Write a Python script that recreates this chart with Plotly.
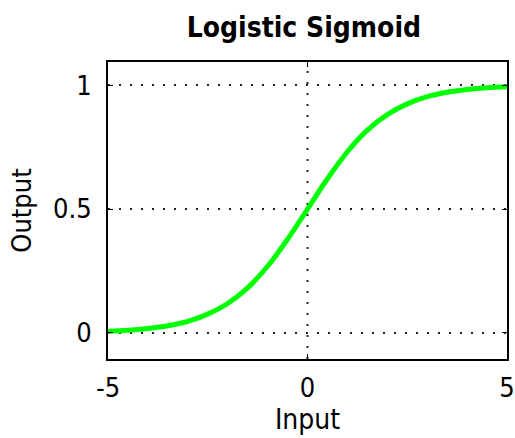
import plotly.graph_objects as go

# valeurs
x_input = [-5, -4.5, -4, -3.5, -3, -2.5, -2, -1.5, -1, -0.5, 0,
           0.5, 1, 1.5, 2, 2.5, 3, 3.5, 4, 4.5, 5]
y_output = [0.007, 0.011, 0.018, 0.029, 0.047, 0.076, 0.119, 0.182, 0.269, 0.378, 0.5,
            0.622, 0.731, 0.818, 0.881, 0.924, 0.953, 0.971, 0.982, 0.989, 0.993]
x_ticks = [-5, 0, 5]
x_tick_labels = ["-5", "0", "5"]
y_ticks = [0, 0.5, 1]
y_tick_labels = ["0", "0.5", "1"]

police = "DejaVu Sans Condensed, Liberation Sans Narrow, Arial Narrow, sans-serif"
y_min, y_max = -0.105, 1.093

fig = go.Figure()
fig.add_trace(go.Scatter(x=x_input, y=y_output, mode="lines",
                         line=dict(color="#00ff00", width=5, shape="spline")))

# grille pointillée
for yv in y_ticks:
    fig.add_shape(type="line", xref="x", yref="y", x0=-5, x1=5, y0=yv, y1=yv,
                  line=dict(color="#222222", width=2, dash="2px,9px"), layer="below")
fig.add_shape(type="line", xref="x", yref="y", x0=0, x1=0, y0=y_min, y1=y_max,
              line=dict(color="#222222", width=2, dash="2px,9px"), layer="below")

fig.update_layout(
    title=dict(text="<b>Logistic Sigmoid</b>", x=0.59, xanchor="center", y=0.938, yanchor="middle",
               font=dict(family=police, size=28, color="black")),
    plot_bgcolor="white",
    paper_bgcolor="white",
    showlegend=False,
    width=515, height=438,
    margin=dict(l=108, r=8, t=62, b=79),
    font=dict(family=police, size=27, color="black"),
    xaxis=dict(range=[-5, 5], tickvals=x_ticks, ticktext=x_tick_labels, showgrid=False, zeroline=False,
               showline=True, linecolor="black", linewidth=2, mirror="ticks",
               ticks="inside", ticklen=5, tickcolor="black", automargin=False,
               ticklabelstandoff=4, ticklabeloverflow="allow",
               title=dict(text="Input", font=dict(size=28), standoff=0),
               tickfont=dict(size=27)),
    yaxis=dict(range=[y_min, y_max], tickvals=y_ticks, ticktext=y_tick_labels, showgrid=False, zeroline=False,
               showline=True, linecolor="black", linewidth=2, mirror="ticks",
               ticks="inside", ticklen=5, tickcolor="black", automargin=False,
               ticklabelstandoff=9,
               title=dict(text="Output", font=dict(size=27), standoff=14),
               tickfont=dict(size=27)),
)

# sans la marge par défaut de la page, la figure remplit la fenêtre
fig.write_html("out.html", config={"displayModeBar": False},
               post_script="document.body.style.margin='0px';")
